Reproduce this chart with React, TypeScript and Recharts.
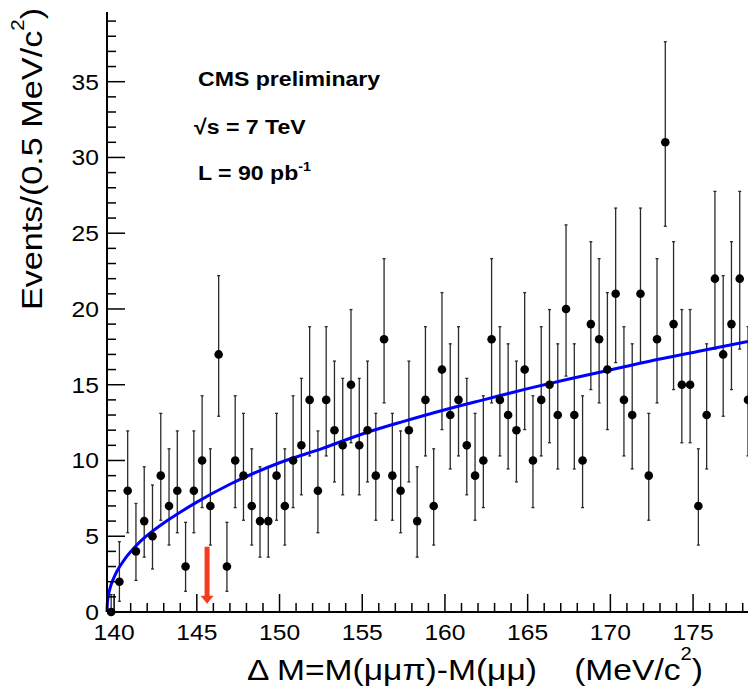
import React from "react";
import {
  ComposedChart,
  Scatter,
  Line,
  XAxis,
  YAxis,
  ErrorBar,
  ReferenceLine,
} from "recharts";

// histogram binning (0.5 MeV bins starting at the pion mass)
const BIN_START = 139.57;
const BIN_WIDTH = 0.5;

// events per bin
const COUNTS = [
  0, 2, 8, 4, 6, 5, 9, 7, 8, 3, 8, 10, 7, 17, 3, 10, 9, 7, 6, 6,
  9, 7, 10, 11, 14, 8, 14, 12, 11, 15, 11, 12, 9, 18, 9, 8, 12, 6, 14, 7,
  16, 13, 14, 11, 9, 10, 18, 14, 13, 12, 16, 10, 14, 15, 13, 20, 13, 10, 19, 18,
  16, 21, 14, 13, 21, 9, 18, 31, 19, 15, 15, 7, 13, 22, 17, 19, 22, 14,
];

// 68% Poisson interval bounds, by count
const POISSON_LO: Record<number, number> = {
  0: 0, 2: 0.708, 3: 1.367, 4: 2.086, 5: 2.84, 6: 3.62, 7: 4.419, 8: 5.232,
  9: 6.057, 10: 6.891, 11: 7.734, 12: 8.585, 13: 9.441, 14: 10.3, 15: 11.17,
  16: 12.04, 17: 12.92, 18: 13.8, 19: 14.68, 20: 15.57, 21: 16.46, 22: 17.35,
  31: 25.46,
};
const POISSON_HI: Record<number, number> = {
  0: 1.148, 2: 4.638, 3: 5.918, 4: 7.163, 5: 8.382, 6: 9.584, 7: 10.77, 8: 11.95,
  9: 13.11, 10: 14.27, 11: 15.42, 12: 16.56, 13: 17.7, 14: 18.83, 15: 19.96,
  16: 21.08, 17: 22.2, 18: 23.32, 19: 24.44, 20: 25.55, 21: 26.66, 22: 27.76,
  31: 37.64,
};

// background fit (blue curve)
const FIT_X = [
  139.57, 139.6, 139.65, 139.75, 139.9, 140.05, 140.3, 140.56, 140.8, 141.3,
  141.8, 142.3, 143, 143.8, 145, 147, 150, 152.6, 155, 157.5, 160, 162.5, 165,
  167.5, 170.5, 173, 175.5, 178.32,
];
const FIT_Y = [
  0, 0.68, 1.07, 1.55, 2.04, 2.42, 2.93, 3.36, 3.72, 4.34, 4.87, 5.32, 5.88,
  6.45, 7.25, 8.43, 9.85, 10.8, 11.75, 12.58, 13.35, 14.05, 14.74, 15.38, 16.1,
  16.7, 17.24, 17.85,
];

const X_MAJOR = [140, 145, 150, 155, 160, 165, 170, 175];
const Y_MAJOR = [0, 5, 10, 15, 20, 25, 30, 35];

const ARROW_X = 145.62;
const ARROW_TOP = 4.3;
const ARROW_TIP = 0.55;

const W = 748;
const H = 692;
const X_DOMAIN: [number, number] = [139.57, 178.32];
const Y_DOMAIN: [number, number] = [0, 39.6];
const FONT = "'Liberation Sans', Arial, Helvetica, sans-serif";

const points = COUNTS.map((n, i) => ({
  x: BIN_START + BIN_WIDTH * (i + 0.5),
  y: n,
  err: [n - POISSON_LO[n], POISSON_HI[n] - n],
}));
const fit = FIT_X.map((x, i) => ({ x, y: FIT_Y[i] }));

const xTicks: number[] = [];
for (let v = 140; v <= 178; v++) xTicks.push(v);
const yTicks: number[] = [];
for (let v = 0; v <= 39; v++) yTicks.push(v);

const makeXTick = (side: "bottom" | "top") => (props: any) => {
  const { x, y, payload } = props;
  const v = payload.value;
  const major = X_MAJOR.includes(v);
  const len = major ? 18 : 9;
  const dir = side === "bottom" ? -1 : 1;
  return (
    <g>
      <line x1={x} y1={y} x2={x} y2={y + dir * len} stroke="#000" strokeWidth={1.5} />
      {side === "bottom" && major && (
        <text
          transform={`translate(${x},${y + 28}) scale(1.12,1)`}
          textAnchor="middle"
          fontSize={22}
          fontFamily={FONT}
          fill="#000"
        >
          {v}
        </text>
      )}
    </g>
  );
};

const makeYTick = (side: "left" | "right") => (props: any) => {
  const { x, y, payload } = props;
  const v = payload.value;
  const major = Y_MAJOR.includes(v);
  const len = major ? 18 : 9;
  const dir = side === "left" ? 1 : -1;
  return (
    <g>
      <line x1={x} y1={y} x2={x + dir * len} y2={y} stroke="#000" strokeWidth={1.5} />
      {side === "left" && major && (
        <text
          transform={`translate(${x - 8},${y + 8}) scale(1.12,1)`}
          textAnchor="end"
          fontSize={22}
          fontFamily={FONT}
          fill="#000"
        >
          {v}
        </text>
      )}
    </g>
  );
};

const Arrow = (p: any) => {
  const { x1, y1, y2 } = p;
  const top = Math.min(y1, y2);
  const tip = Math.max(y1, y2);
  const sw = 5;
  const hw = 13;
  const hh = 8;
  const d = `M${x1 - sw / 2},${top} L${x1 + sw / 2},${top} L${x1 + sw / 2},${tip - hh} L${x1 + hw / 2},${tip - hh} L${x1},${tip} L${x1 - hw / 2},${tip - hh} L${x1 - sw / 2},${tip - hh} Z`;
  return <path d={d} fill="#f33b1d" />;
};

const Dot = (p: any) => <circle cx={p.cx} cy={p.cy} r={4.3} fill="#000" />;

export default function App() {
  return (
    <div style={{ position: "absolute", left: 0, top: 0, width: W, height: H, background: "#fff" }}>
      <ComposedChart width={W} height={H} margin={{ top: 12, right: 0, bottom: 0, left: 0 }}>
        <XAxis
          dataKey="x"
          type="number"
          domain={X_DOMAIN}
          ticks={xTicks}
          interval={0}
          height={80}
          tickSize={0}
          tickMargin={0}
          tickLine={false}
          tick={makeXTick("bottom")}
          axisLine={{ stroke: "#000", strokeWidth: 2 }}
        />
        <XAxis
          xAxisId="top"
          orientation="top"
          dataKey="x"
          type="number"
          domain={X_DOMAIN}
          allowDataOverflow
          ticks={xTicks}
          interval={0}
          height={0}
          tickSize={0}
          tickMargin={0}
          tickLine={false}
          tick={makeXTick("top")}
          axisLine={{ stroke: "#000", strokeWidth: 2 }}
        />
        <YAxis
          type="number"
          domain={Y_DOMAIN}
          ticks={yTicks}
          interval={0}
          width={107}
          tickSize={0}
          tickMargin={0}
          tickLine={false}
          tick={makeYTick("left")}
          axisLine={{ stroke: "#000", strokeWidth: 2 }}
        />
        <YAxis
          yAxisId="right"
          orientation="right"
          type="number"
          domain={Y_DOMAIN}
          allowDataOverflow
          ticks={yTicks}
          interval={0}
          width={0}
          tickSize={0}
          tickMargin={0}
          tickLine={false}
          tick={makeYTick("right")}
          axisLine={{ stroke: "#000", strokeWidth: 2 }}
        />
        <Scatter data={points} dataKey="y" shape={Dot} isAnimationActive={false}>
          <ErrorBar
            dataKey="err"
            direction="y"
            width={1.5}
            stroke="#2a2a2a"
            strokeWidth={1.3}
            isAnimationActive={false}
          />
        </Scatter>
        <Line
          data={fit}
          dataKey="y"
          type="monotone"
          stroke="#0000ff"
          strokeWidth={3}
          dot={false}
          activeDot={false}
          isAnimationActive={false}
        />
        <ReferenceLine
          segment={[
            { x: ARROW_X, y: ARROW_TOP },
            { x: ARROW_X, y: ARROW_TIP },
          ]}
          shape={Arrow}
        />
      </ComposedChart>
      <svg
        width={W}
        height={H}
        style={{ position: "absolute", left: 0, top: 0, pointerEvents: "none" }}
        fontFamily={FONT}
      >
        <g fontWeight="bold" fontSize={21} fill="#000">
          <text transform="translate(198,86) scale(1.1,1)">CMS preliminary</text>
          <text transform="translate(194,134) scale(1.1,1)">√s = 7 TeV</text>
          <text transform="translate(198,180) scale(1.1,1)">
            L = 90 pb
            <tspan fontSize={13} dy={-9}>-1</tspan>
          </text>
        </g>
        <text transform="translate(42,159) rotate(-90) scale(1.14,1)" textAnchor="middle" fontSize={30} fill="#000">
          Events/(0.5 MeV/c
          <tspan fontSize={18} dy={-18}>2</tspan>
          <tspan dy={18}>)</tspan>
        </text>
        <text transform="translate(247,680) scale(1.12,1)" fontSize={30} fill="#000">
          Δ M=M(μμπ)-M(μμ)
        </text>
        <text transform="translate(703,680) scale(1.12,1)" textAnchor="end" fontSize={30} fill="#000">
          (MeV/c
          <tspan fontSize={18} dy={-20}>2</tspan>
          <tspan dy={20}>)</tspan>
        </text>
      </svg>
    </div>
  );
}
